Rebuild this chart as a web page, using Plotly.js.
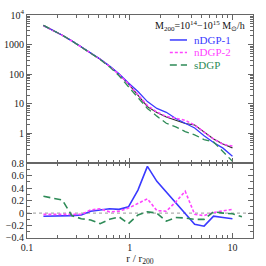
<!DOCTYPE html>
<html><head><meta charset="utf-8">
<script src="https://cdn.plot.ly/plotly-3.0.1.min.js"></script>
<style>html,body{margin:0;padding:0;background:#fff}</style>
</head><body>
<div id="chart" style="width:266px;height:266px"></div>
<script>
// r / r200 sample points
const rPts = [0.1445,0.1786,0.2208,0.2729,0.3373,0.4169,0.5152,0.6368,0.787,0.9727,1.202,1.486,1.837,2.270,2.805,3.467,4.285,5.297,6.546,8.091,10.0];
const rPtsGreenRatio = [0.1445,0.1786,0.2208,0.2729,0.3373,0.4169,0.5152,0.6368,0.787,0.9727,1.202,1.486,1.837,2.270,2.805,3.467,4.285,5.297,6.546,8.091,10.0,12.36];

// top panel profiles
const profGR    = [4467,3090,2089,1349,851,525,324,186,100,47.9,20.0,8.13,5.13,3.63,2.82,2.19,1.95,1.10,0.66,0.447,0.331];
const profNDGP1 = [4400,3050,2070,1340,850,530,330,190,104,51.3,26.3,12.0,7.08,5.25,3.24,2.24,1.55,0.85,0.50,0.324,0.174];
const profNDGP2 = [4350,3020,2060,1330,845,522,322,185,99,48,20.9,8.9,5.37,3.80,3.31,2.82,1.95,1.15,0.66,0.437,0.38];
const profSDGP  = [4450,3080,2080,1340,845,520,318,178,89,38,16.6,7.08,3.89,2.24,1.70,1.17,0.91,0.63,0.525,0.24,0.117];

// bottom panel relative differences
const diffNDGP1 = [-0.05,-0.05,-0.05,-0.04,-0.03,0.03,0.05,0.07,0.06,0.10,0.37,0.75,0.51,0.34,0.17,0.0,-0.18,-0.21,-0.05,-0.07,-0.09];
const diffNDGP2 = [-0.02,-0.02,-0.03,-0.03,-0.02,0.05,0.07,0.02,0.03,0.08,0.16,0.23,0.04,0.03,0.18,0.35,-0.02,-0.04,0.01,0.03,0.06];
const diffSDGP  = [0.27,0.24,0.21,-0.04,-0.09,-0.11,-0.17,-0.10,-0.06,-0.17,-0.03,0.02,0.0,-0.13,-0.07,-0.08,-0.10,-0.10,0.02,0.0,-0.01,-0.06];

const names = ['nDGP-1','nDGP-2','sDGP'];
const headerText = 'M<sub>200</sub>=10<sup>14</sup>−10<sup>15</sup> M<sub>⊙</sub>/h';
const cBlue = '#3a3aff', cMag = '#ff44ff', cGreen = '#2e8b57', cBlack = '#333333';
const dashMag = '3px,2px', dashGreen = '7px,4px';

const traces = [
  {x:rPts, y:profGR, xaxis:'x', yaxis:'y', mode:'lines', line:{color:cBlack,width:1.2}},
  {x:rPts, y:profNDGP1, xaxis:'x', yaxis:'y', mode:'lines', line:{color:cBlue,width:1.3}, name:names[0]},
  {x:rPts, y:profNDGP2, xaxis:'x', yaxis:'y', mode:'lines', line:{color:cMag,width:1.5,dash:dashMag}, name:names[1]},
  {x:rPts, y:profSDGP, xaxis:'x', yaxis:'y', mode:'lines', line:{color:cGreen,width:1.3,dash:dashGreen}, name:names[2]},
  {x:rPts, y:diffNDGP1, xaxis:'x2', yaxis:'y2', mode:'lines', line:{color:cBlue,width:1.6}},
  {x:rPts, y:diffNDGP2, xaxis:'x2', yaxis:'y2', mode:'lines', line:{color:cMag,width:1.6,dash:dashMag}},
  {x:rPtsGreenRatio, y:diffSDGP, xaxis:'x2', yaxis:'y2', mode:'lines', line:{color:cGreen,width:1.6,dash:dashGreen}}
];

// tick styling helpers
function logMinor(d0, d1){ const v=[]; for(let e=d0;e<d1;e++){ for(let m=2;m<=9;m++) v.push(m*Math.pow(10,e)); } return v; }
const axCol = '#666';
const serif = 'Liberation Serif, serif';
const tickFont = {family:serif, size:10, color:'#222'};
const xCommon = {type:'log', range:[-1,1.2], showgrid:false, zeroline:false, showline:true, linecolor:axCol, linewidth:1,
  mirror:'allticks', ticks:'inside', ticklen:5, tickcolor:axCol, tickvals:[0.1,1,10], ticktext:['0.1','1','10'],
  minor:{tickvals:logMinor(-1,2), ticks:'inside', ticklen:3, tickcolor:axCol, showgrid:false}, tickfont:tickFont};

// manual legend (paper coordinates)
const legColors = [cBlue, cMag, cGreen];
const legDash = ['solid', dashMag, dashGreen];
const legY = [0.888, 0.832, 0.776];
const shapes = [{type:'line', xref:'paper', yref:'y2', x0:0, x1:1, y0:0, y1:0, line:{color:'#999', width:1, dash:'dot'}, layer:'below'}];
const annotations = [{xref:'paper', yref:'paper', x:0.975, y:0.95, xanchor:'right', yanchor:'middle', showarrow:false,
    text:headerText, font:{family:serif, size:10, color:'#111'}}];
for (let i=0;i<3;i++){
  shapes.push({type:'line', xref:'paper', yref:'paper', x0:0.632, x1:0.708, y0:legY[i], y1:legY[i],
    line:{color:legColors[i], width:1.5, dash:legDash[i]}});
  annotations.push({xref:'paper', yref:'paper', x:0.728, y:legY[i], xanchor:'left', yanchor:'middle', showarrow:false,
    text:names[i], font:{family:serif, size:11, color:legColors[i]}});
}

const layout = {
  width:266, height:266, margin:{l:27, r:13, t:15, b:28},
  paper_bgcolor:'#fff', plot_bgcolor:'#fff', showlegend:false,
  font:{family:serif, size:10, color:'#222'},
  xaxis: Object.assign({}, xCommon, {anchor:'y', showticklabels:false}),
  xaxis2: Object.assign({}, xCommon, {anchor:'y2', matches:'x',
    title:{text:'r / r<sub>200</sub>', font:{family:serif, size:11, color:'#222'}, standoff:8}}),
  yaxis: {type:'log', domain:[0.335,1], range:[-1,4], showgrid:false, zeroline:false, showline:true, linecolor:axCol,
    mirror:'allticks', ticks:'inside', ticklen:5, tickcolor:axCol,
    tickvals:[0.1,1,10,100,1000,10000], ticktext:['','1','10','100','1000','10<sup>4</sup>'], tickfont:tickFont,
    minor:{tickvals:logMinor(-1,4), ticks:'inside', ticklen:3, tickcolor:axCol, showgrid:false}},
  yaxis2: {domain:[0,0.335], range:[-0.4,0.8], showgrid:false, zeroline:false, showline:true, linecolor:axCol,
    mirror:'allticks', ticks:'inside', ticklen:5, tickcolor:axCol, tickfont:tickFont,
    tickvals:[-0.4,-0.2,0,0.2,0.4,0.6,0.8], ticktext:['−0.4','−0.2','0','0.2','0.4','0.6','0.8'],
    minor:{dtick:0.1, tick0:0, ticks:'inside', ticklen:3, tickcolor:axCol, showgrid:false}},
  shapes: shapes,
  annotations: annotations
};

Plotly.newPlot('chart', traces, layout, {displayModeBar:false, staticPlot:true});
</script>
</body></html>
